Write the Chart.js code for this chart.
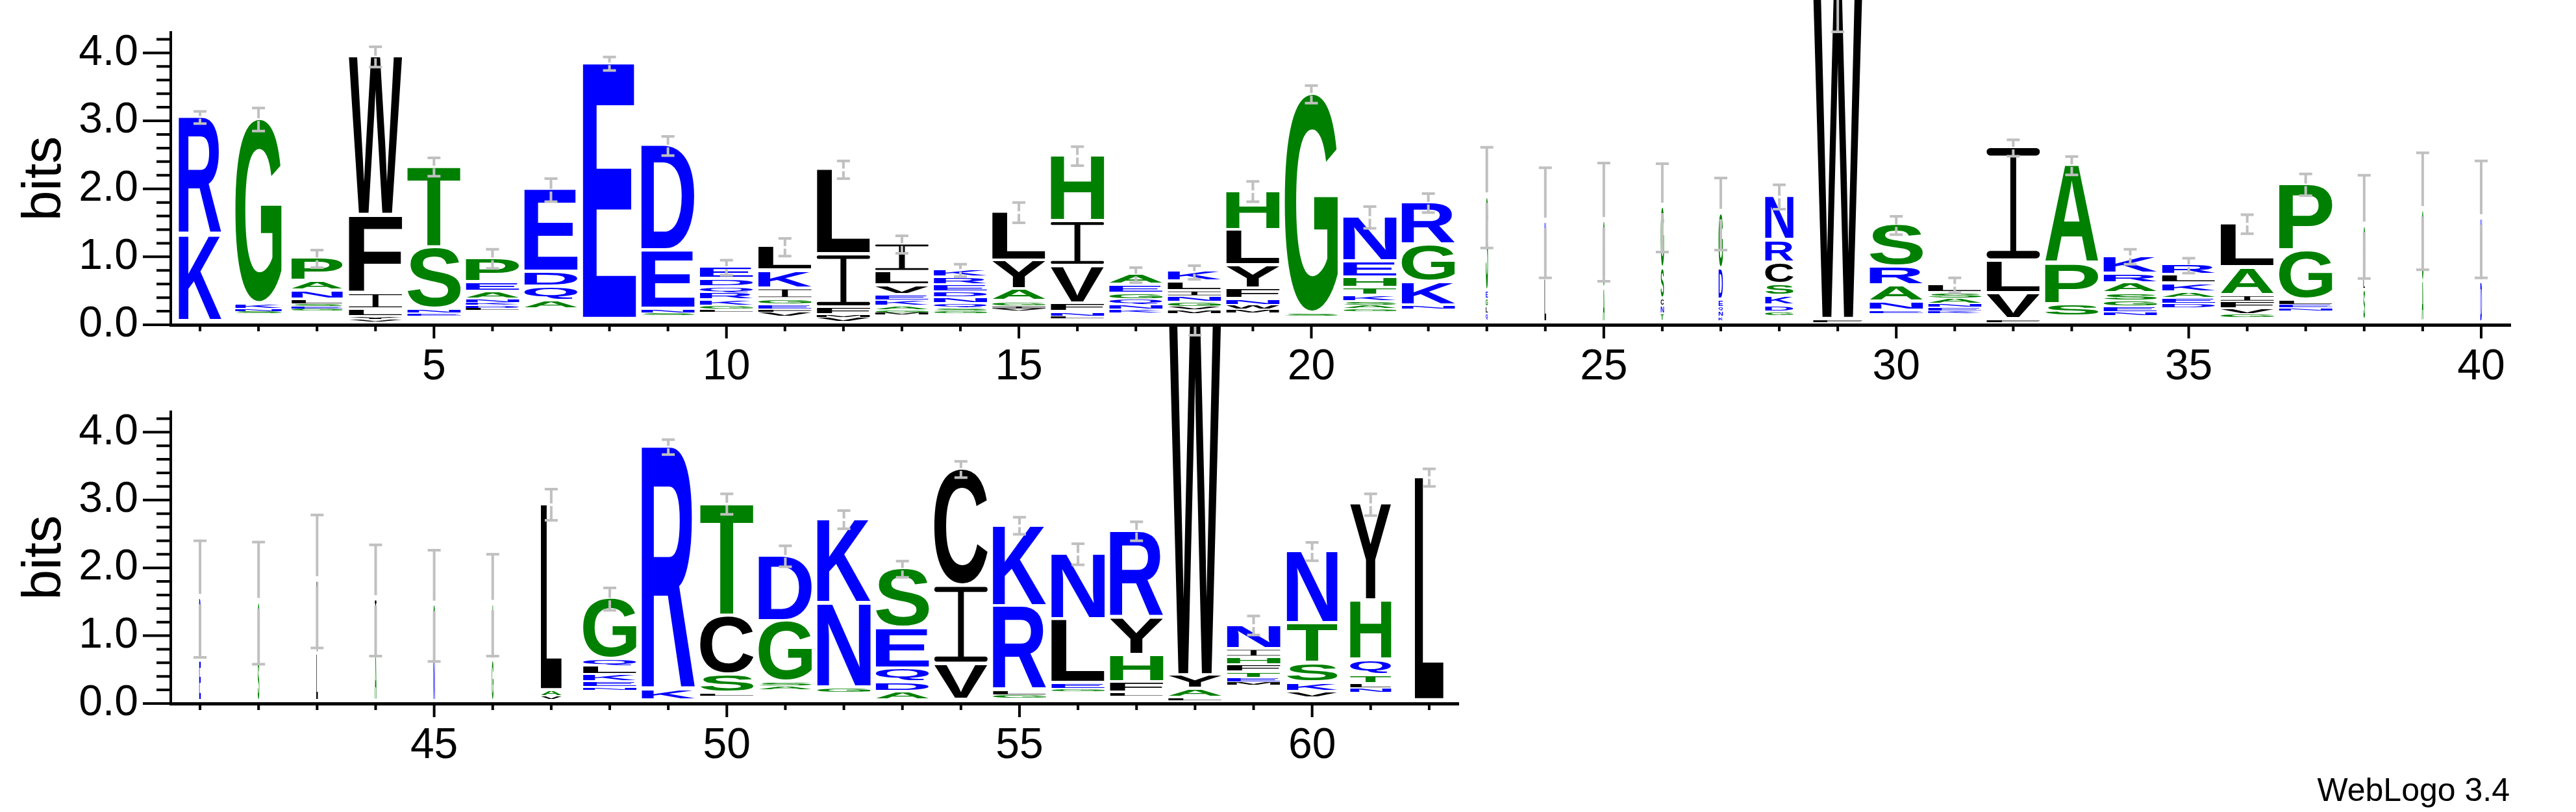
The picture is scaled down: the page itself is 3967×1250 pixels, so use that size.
<!DOCTYPE html>
<html>
<head>
<meta charset="utf-8">
<script src="https://cdn.jsdelivr.net/npm/chart.js@4.4.1/dist/chart.umd.min.js"></script>
<style>
  html, body { margin: 0; padding: 0; background: #fff; }
  body { width: 3967px; height: 1250px; position: relative; overflow: hidden; }
  canvas { position: absolute; left: 0; }
  #logo1 { top: 0; }
  #logo2 { top: 503px; }
  #credit { position: absolute; right: 102px; top: 1191px; font: 50px/50px "Liberation Sans", Arial, sans-serif; color: #000; }
</style>
</head>
<body>
<canvas id="logo1" width="3967" height="620"></canvas>
<canvas id="logo2" width="2400" height="747"></canvas>
<div id="credit">WebLogo 3.4</div>
<script>
// sequence positions
const positions = [1, 2, 3, 4, 5, 6, 7, 8, 9, 10, 11, 12, 13, 14, 15, 16, 17, 18, 19, 20,
  21, 22, 23, 24, 25, 26, 27, 28, 29, 30, 31, 32, 33, 34, 35, 36, 37, 38, 39, 40,
  41, 42, 43, 44, 45, 46, 47, 48, 49, 50, 51, 52, 53, 54, 55, 56, 57, 58, 59, 60, 61, 62];

// letter stacks, bottom to top: [residue, bits]. '' = residues too small to see
const stacks = [
  [['', 0.04], ['K', 1.27], ['R', 1.74]],
  [['', 0.16], ['S', 0.03], ['N', 0.04], ['K', 0.07], ['G', 2.72]],
  [['', 0.2], ['G', 0.03], ['E', 0.03], ['S', 0.04], ['L', 0.06], ['N', 0.13], ['A', 0.14], ['P', 0.34]],
  [['', 0.04], ['V', 0.04], ['Y', 0.03], ['L', 0.1], ['I', 0.24], ['F', 1.15], ['W', 2.34]],
  [['', 0.12], ['E', 0.04], ['N', 0.06], ['S', 0.9], ['T', 1.2]],
  [['', 0.21], ['L', 0.03], ['D', 0.04], ['K', 0.04], ['N', 0.05], ['A', 0.1], ['E', 0.14], ['P', 0.36]],
  [['', 0.22], ['A', 0.12], ['Q', 0.2], ['D', 0.22], ['E', 1.22]],
  [['', 0.07], ['E', 3.77]],
  [['', 0.13], ['S', 0.03], ['N', 0.06], ['E', 0.86], ['D', 1.55]],
  [['', 0.18], ['L', 0.04], ['G', 0.05], ['K', 0.09], ['R', 0.1], ['Q', 0.09], ['D', 0.11], ['E', 0.18]],
  [['', 0.12], ['V', 0.06], ['F', 0.04], ['E', 0.07], ['G', 0.07], ['I', 0.16], ['K', 0.26], ['L', 0.36]],
  [['', 0.04], ['V', 0.06], ['M', 0.04], ['F', 0.1], ['I', 0.78], ['L', 1.26]],
  [['', 0.14], ['M', 0.03], ['G', 0.04], ['A', 0.06], ['K', 0.08], ['E', 0.08], ['V', 0.13], ['L', 0.2], ['I', 0.42]],
  [['', 0.16], ['G', 0.04], ['S', 0.04], ['Q', 0.07], ['N', 0.08], ['D', 0.09], ['E', 0.1], ['R', 0.11], ['K', 0.11]],
  [['', 0.2], ['V', 0.03], ['I', 0.04], ['G', 0.06], ['A', 0.18], ['Y', 0.42], ['L', 0.72]],
  [['', 0.08], ['L', 0.04], ['N', 0.06], ['F', 0.12], ['V', 0.55], ['I', 0.66], ['H', 0.97]],
  [['', 0.16], ['K', 0.06], ['N', 0.07], ['Q', 0.08], ['G', 0.08], ['E', 0.12], ['A', 0.16]],
  [['', 0.16], ['M', 0.05], ['V', 0.05], ['G', 0.07], ['N', 0.08], ['I', 0.08], ['L', 0.13], ['K', 0.15]],
  [['', 0.17], ['M', 0.05], ['W', 0.06], ['N', 0.08], ['F', 0.16], ['Y', 0.34], ['L', 0.52], ['H', 0.58]],
  [['', 0.12], ['S', 0.04], ['G', 3.23]],
  [['', 0.19], ['G', 0.04], ['A', 0.05], ['S', 0.06], ['K', 0.09], ['T', 0.1], ['H', 0.15], ['E', 0.24], ['N', 0.66]],
  [['', 0.22], ['N', 0.05], ['K', 0.34], ['G', 0.55], ['R', 0.63]],
  [['', 0.05], ['Q', 0.1], ['L', 0.1], ['G', 0.12], ['E', 0.12], ['S', 1.38]],
  [['', 0.02], ['L', 0.65], ['N', 0.83]],
  [['', 0.02], ['A', 0.5], ['G', 0.99]],
  [['', 0.05], ['T', 0.1], ['N', 0.12], ['C', 0.1], ['S', 0.45], ['G', 0.9]],
  [['', 0.05], ['K', 0.06], ['N', 0.08], ['Q', 0.06], ['E', 0.1], ['D', 0.46], ['G', 0.82]],
  [['', 0.12], ['G', 0.06], ['D', 0.09], ['K', 0.14], ['S', 0.17], ['C', 0.32], ['R', 0.33], ['N', 0.65]],
  [['', 0.03], ['F', 0.04], ['W', 4.79]],
  [['', 0.16], ['E', 0.04], ['N', 0.12], ['A', 0.24], ['R', 0.28], ['S', 0.62]],
  [['', 0.16], ['K', 0.04], ['E', 0.05], ['N', 0.05], ['A', 0.08], ['S', 0.08], ['L', 0.12]],
  [['', 0.03], ['F', 0.04], ['V', 0.38], ['L', 0.48], ['I', 1.67]],
  [['', 0.1], ['S', 0.19], ['P', 0.6], ['A', 1.45]],
  [['', 0.13], ['N', 0.05], ['E', 0.08], ['G', 0.08], ['S', 0.11], ['A', 0.15], ['R', 0.14], ['K', 0.26]],
  [['', 0.24], ['D', 0.06], ['E', 0.08], ['A', 0.09], ['K', 0.13], ['L', 0.12], ['R', 0.15]],
  [['', 0.1], ['G', 0.05], ['V', 0.08], ['F', 0.1], ['I', 0.09], ['A', 0.41], ['L', 0.65]],
  [['', 0.2], ['N', 0.04], ['E', 0.05], ['L', 0.06], ['G', 0.73], ['P', 0.98]],
  [['', 0.05], ['S', 0.45], ['L', 0.15], ['G', 0.79]],
  [['', 0.02], ['A', 0.6], ['G', 1.05]],
  [['', 0.02], ['D', 0.6], ['N', 0.93]],
  [['', 0.02], ['E', 0.6], ['D', 0.92]],
  [['', 0.02], ['S', 0.6], ['G', 0.86]],
  [['', 0.02], ['L', 0.7], ['V', 1.08]],
  [['', 0.02], ['A', 0.7], ['I', 0.8]],
  [['', 0.02], ['N', 0.62], ['S', 0.8]],
  [['', 0.02], ['G', 0.6], ['A', 0.83]],
  [['', 0.05], ['V', 0.05], ['A', 0.08], ['L', 2.75]],
  [['', 0.19], ['N', 0.04], ['E', 0.08], ['K', 0.1], ['L', 0.13], ['Q', 0.1], ['G', 0.9]],
  [['', 0.03], ['K', 0.15], ['R', 3.6]],
  [['', 0.1], ['L', 0.04], ['S', 0.27], ['C', 0.87], ['T', 1.66]],
  [['', 0.2], ['A', 0.05], ['S', 0.05], ['G', 0.9], ['D', 0.97]],
  [['', 0.15], ['G', 0.07], ['N', 1.25], ['K', 1.24]],
  [['', 0.04], ['A', 0.12], ['D', 0.14], ['Q', 0.2], ['E', 0.6], ['S', 0.88]],
  [['', 0.04], ['V', 0.53], ['I', 1.15], ['C', 1.73]],
  [['', 0.07], ['G', 0.05], ['L', 0.06], ['R', 1.24], ['K', 1.2]],
  [['', 0.17], ['G', 0.04], ['E', 0.08], ['L', 0.94], ['N', 0.97]],
  [['', 0.1], ['L', 0.05], ['F', 0.15], ['H', 0.4], ['Y', 0.55], ['R', 1.29]],
  [['', 0.04], ['L', 0.04], ['A', 0.12], ['Y', 0.2], ['W', 5.58]],
  [['', 0.26], ['M', 0.05], ['E', 0.06], ['T', 0.09], ['F', 0.1], ['H', 0.11], ['I', 0.12], ['N', 0.36]],
  [['', 0.08], ['V', 0.08], ['K', 0.13], ['S', 0.29], ['T', 0.59], ['N', 1.07]],
  [['', 0.15], ['N', 0.07], ['L', 0.06], ['T', 0.12], ['Q', 0.23], ['H', 0.87], ['Y', 1.43]],
  [['', 0.03], ['L', 3.3]]
];

// fraction of sequences with a residue at each position (stack width)
const coverage = [0.8, 0.87, 0.96, 1, 1, 1, 1, 1, 1, 1, 1, 1, 1, 1, 1, 1, 1, 1, 1, 1,
  1, 1, 0.04, 0.03, 0.03, 0.06, 0.08, 0.53, 0.92, 1, 1, 1, 1, 1, 1, 1, 1, 0.03, 0.03, 0.03,
  0.03, 0.03, 0.03, 0.03, 0.03, 0.03, 0.39, 1, 1, 1, 1, 1, 1, 1, 1, 1, 1, 1, 1, 0.95, 0.77, 0.54];

// error bar half heights (bits)
const errors = [0.09, 0.17, 0.13, 0.15, 0.135, 0.14, 0.17, 0.1, 0.14, 0.11, 0.13, 0.13, 0.13, 0.09, 0.15, 0.14, 0.11, 0.1, 0.15, 0.13,
  0.16, 0.14, 0.74, 0.81, 0.87, 0.65, 0.53, 0.18, 0.55, 0.135, 0.11, 0.12, 0.135, 0.11, 0.11, 0.14, 0.16, 0.76, 0.86, 0.86,
  0.86, 0.9, 0.98, 0.82, 0.82, 0.75, 0.23, 0.165, 0.11, 0.15, 0.155, 0.135, 0.12, 0.12, 0.125, 0.155, 0.14, 0.55, 0.14, 0.135, 0.16, 0.13];

const xTicksTop = [5, 10, 15, 20, 25, 30, 35, 40];
const xTicksBottom = [45, 50, 55, 60];
const yTicks = [0, 1, 2, 3, 4];

const hydrophilic = 'RKDENQ';
const neutral = 'SGHTAP';

function letterColor(ch) {
  if (hydrophilic.includes(ch)) return '#0000ff';
  if (neutral.includes(ch)) return '#008000';
  return '#000000';
}

const glyphFont = 'bold 200px "Liberation Sans"';
const boxCache = {};
function glyphBox(ctx, ch) {
  if (!boxCache[ch]) {
    ctx.save();
    ctx.font = glyphFont;
    const m = ctx.measureText(ch);
    ctx.restore();
    boxCache[ch] = { l: m.actualBoundingBoxLeft, r: m.actualBoundingBoxRight, a: m.actualBoundingBoxAscent, d: m.actualBoundingBoxDescent };
  }
  return boxCache[ch];
}

// WebLogo's I: thin stem with rounded bars top and bottom
function drawI(ctx, left, right, top, bottom) {
  const w = right - left, h = bottom - top;
  const t = Math.max(0.8, h * 0.068);
  const stem = Math.max(1, w * 0.11);
  const r = Math.min(t / 2, w / 2);
  ctx.save();
  ctx.fillStyle = letterColor('I');
  ctx.beginPath();
  ctx.roundRect(left, top, w, t, r);
  ctx.roundRect(left, bottom - t, w, t, r);
  ctx.rect(left + w / 2 - stem / 2, top + t / 2, stem, h - t);
  ctx.fill();
  ctx.restore();
}

// stretch the glyph ink so it fills the box
function drawGlyph(ctx, ch, left, right, top, bottom) {
  if (bottom - top < 0.6 || right - left < 0.5) return;
  if (ch === 'I') return drawI(ctx, left, right, top, bottom);
  const b = glyphBox(ctx, ch);
  ctx.save();
  ctx.translate(left, top);
  ctx.scale((right - left) / (b.l + b.r), (bottom - top) / (b.a + b.d));
  ctx.font = glyphFont;
  ctx.fillStyle = letterColor(ch);
  ctx.textAlign = 'left';
  ctx.textBaseline = 'alphabetic';
  ctx.fillText(ch, b.l, b.a);
  ctx.restore();
}

function stackTop(i) {
  return stacks[i].reduce((s, l) => s + l[1], 0);
}

const logoPlugin = {
  id: 'logo',
  afterDatasetsDraw(chart) {
    const { ctx } = chart;
    const x = chart.scales.x, y = chart.scales.y;
    const { first, last } = chart.options.plugins.logo;
    const colW = x.getPixelForValue(first + 1) - x.getPixelForValue(first);

    for (let i = first - 1; i < last; i++) {
      const cx = x.getPixelForValue(positions[i]);
      const half = colW * 0.455 * coverage[i];
      let base = 0;
      stacks[i].forEach(([ch, h]) => {
        const yb = y.getPixelForValue(base);
        const yt = y.getPixelForValue(base + h);
        if (ch) {
          const gap = Math.min(5, (yb - yt) * 0.3);
          drawGlyph(ctx, ch, cx - half, cx + half, yt, yb - gap);
        }
        base += h;
      });
    }

    // error bars
    ctx.save();
    ctx.strokeStyle = '#c0c0c0';
    ctx.lineWidth = 4;
    for (let i = first - 1; i < last; i++) {
      const cx = x.getPixelForValue(positions[i]);
      const top = stackTop(i);
      const yHi = y.getPixelForValue(top + errors[i]);
      const yLo = y.getPixelForValue(top - errors[i]);
      const yMid = y.getPixelForValue(top);
      const gap = coverage[i] < 0.2 ? 8 : 2;
      ctx.beginPath();
      ctx.moveTo(cx, yHi); ctx.lineTo(cx, yMid - gap);
      ctx.moveTo(cx, yMid + gap); ctx.lineTo(cx, yLo);
      ctx.moveTo(cx - 10, yHi); ctx.lineTo(cx + 10, yHi);
      ctx.moveTo(cx - 10, yLo); ctx.lineTo(cx + 10, yLo);
      ctx.stroke();
    }
    ctx.restore();
  },
  afterDraw(chart) {
    const { ctx, chartArea } = chart;
    const x = chart.scales.x, y = chart.scales.y;
    const { first, last } = chart.options.plugins.logo;
    ctx.save();
    ctx.strokeStyle = '#000';
    ctx.lineWidth = 4;
    ctx.beginPath();
    for (let k = 0; k <= 21; k++) {
      const py = y.getPixelForValue(k / 5);
      const len = k % 5 === 0 ? 43 : 22;
      ctx.moveTo(chartArea.left - len, py);
      ctx.lineTo(chartArea.left, py);
    }
    for (let i = first - 1; i < last; i++) {
      const px = x.getPixelForValue(positions[i]);
      const len = positions[i] % 5 === 0 ? 21 : 10;
      ctx.moveTo(px, chartArea.bottom);
      ctx.lineTo(px, chartArea.bottom + len);
    }
    ctx.stroke();
    ctx.restore();
  }
};

// keep the plot area where the padding puts it, whatever the label sizes
function fixPadding(s) {
  s.paddingTop = 0;
  s.paddingBottom = 0;
  s.paddingLeft = 0;
  s.paddingRight = 0;
}

function makeRow(canvasId, first, last, xTicks, padTop, padRight, xHeight) {
  const tickFont = { family: 'Liberation Sans', size: 66 };
  return new Chart(document.getElementById(canvasId), {
    type: 'scatter',
    data: {
      datasets: [{
        data: positions.slice(first - 1, last).map((p, k) => ({ x: p, y: stackTop(first - 1 + k) })),
        pointRadius: 0,
        showLine: false
      }]
    },
    options: {
      responsive: false,
      animation: false,
      devicePixelRatio: 1,
      events: [],
      layout: { padding: { left: 0, right: padRight, top: padTop, bottom: 0 } },
      plugins: {
        legend: { display: false },
        tooltip: { enabled: false },
        logo: { first, last }
      },
      scales: {
        x: {
          type: 'linear',
          min: first - 0.5,
          max: last + 0.5,
          grid: { display: false, drawTicks: false, tickLength: 0 },
          border: { display: true, color: '#000', width: 5 },
          ticks: {
            autoSkip: false,
            maxRotation: 0,
            padding: 26,
            color: '#000',
            font: tickFont,
            callback: v => String(v)
          },
          afterBuildTicks: s => { s.ticks = xTicks.map(v => ({ value: v })); },
          afterFit: s => { s.height = xHeight; fixPadding(s); }
        },
        y: {
          min: 0,
          max: 4.3,
          grid: { display: false, drawTicks: false, tickLength: 0 },
          border: { display: true, color: '#000', width: 4 },
          ticks: {
            padding: 50,
            color: '#000',
            font: tickFont,
            callback: v => v.toFixed(1)
          },
          title: {
            display: true,
            text: 'bits',
            color: '#000',
            font: { family: 'Liberation Sans', size: 84 },
            padding: { top: 19, bottom: 0 }
          },
          afterBuildTicks: s => { s.ticks = yTicks.map(v => ({ value: v })); },
          afterFit: s => { s.width = 263; fixPadding(s); }
        }
      }
    },
    plugins: [logoPlugin]
  });
}

makeRow('logo1', 1, 40, xTicksTop, 50, 101, 120);
makeRow('logo2', 41, 62, xTicksBottom, 131, 154, 167);
</script>
</body>
</html>
